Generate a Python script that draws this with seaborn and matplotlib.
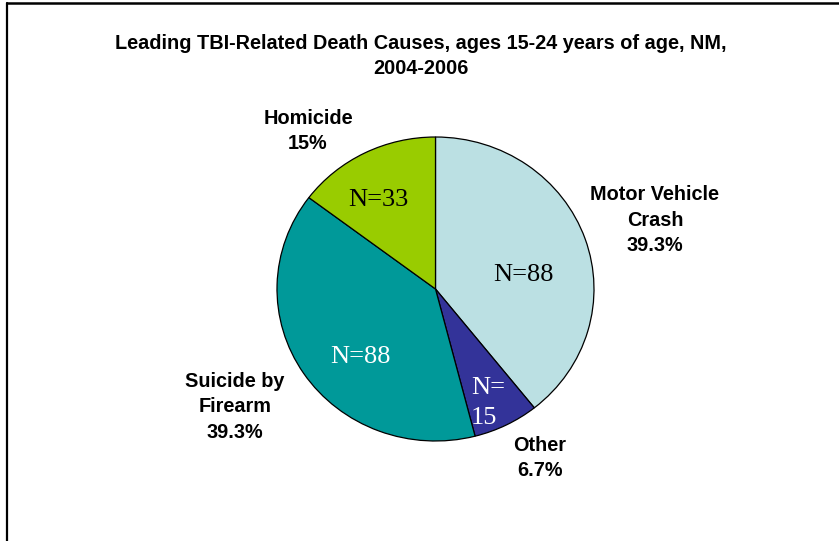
import matplotlib
matplotlib.use("Agg")
import matplotlib.pyplot as plt
from matplotlib.lines import Line2D
import seaborn as sns

# data
causes = ["Motor Vehicle\nCrash", "Other", "Suicide by\nFirearm", "Homicide"]
counts = [88, 15, 88, 33]
pct_labels = ["39.3%", "6.7%", "39.3%", "15%"]
n_labels = ["N=88", "N=\n15", "N=88", "N=33"]
colors = ["#BBE0E3", "#333399", "#009999", "#99CC00"]
n_text_colors = ["black", "white", "white", "black"]

sns.set_theme(style="white")
plt.rcParams["font.family"] = ["Liberation Sans", "DejaVu Sans"]

W, H = 839, 541
fig = plt.figure(figsize=(W / 100, H / 100), dpi=100)
fig.patch.set_facecolor("white")
ax = fig.add_axes([0, 0, 1, 1])

# pie geometry in pixels (center and radii of the slightly wide ellipse)
cx, cy, rx, ry = 435.5, 289, 158.5, 152

def px(x, y):
    # pixel position -> pie data units
    return (x - cx) / rx, (cy - y) / ry

wedges, _ = ax.pie(counts, colors=colors, startangle=90, counterclock=False,
                   radius=1, wedgeprops=dict(edgecolor="black", linewidth=0.9))
ax.set_aspect("auto")
ax.set_xlim(-cx / rx, (W - cx) / rx)
ax.set_ylim(-(H - cy) / ry, cy / ry)
ax.axis("off")

# outside labels
outer_pos = [px(655, 220), px(540, 458), px(235, 407), px(308, 131)]
for name, p, pos in zip(causes, pct_labels, outer_pos):
    ax.text(pos[0], pos[1], name + "\n" + p, ha="center", va="center",
            fontsize=14.3, fontweight="bold", color="black", linespacing=1.45)

# inside labels
inner_pos = [px(523, 275), px(471, 403), px(360, 357), px(378, 200)]
for lab, pos, c in zip(n_labels, inner_pos, n_text_colors):
    ha = "left" if "\n" in lab else "center"
    ax.text(pos[0], pos[1], lab, ha=ha, va="center", fontsize=19,
            family="Liberation Serif", color=c, linespacing=1.45)

fig.text(421 / W, 1 - 56 / H,
         "Leading TBI-Related Death Causes, ages 15-24 years of age, NM,\n2004-2006",
         ha="center", va="center", fontsize=14.3, fontweight="bold",
         color="black", linespacing=1.4)

# chart frame (left and top edges)
fig.add_artist(Line2D([6.5 / W, 6.5 / W], [0, 1 - 3 / H], transform=fig.transFigure,
                      color="black", linewidth=1.6))
fig.add_artist(Line2D([6.5 / W, 1], [1 - 3 / H, 1 - 3 / H], transform=fig.transFigure,
                      color="black", linewidth=1.8))

fig.savefig("out.png", dpi=100, facecolor="white")
